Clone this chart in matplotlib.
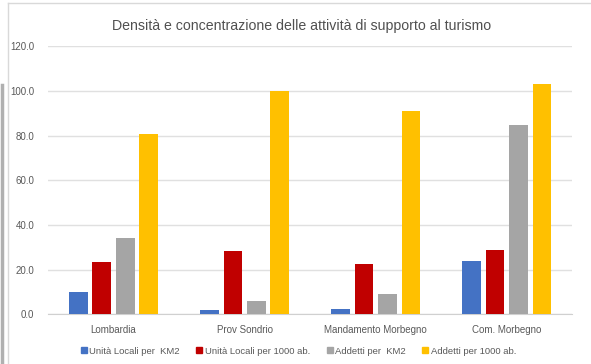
import numpy as np
import matplotlib.pyplot as plt
from matplotlib.lines import Line2D

# data
categories = ["Lombardia", "Prov Sondrio", "Mandamento Morbegno", "Com. Morbegno"]
series_names = ["Unità Locali per  KM2", "Unità Locali per 1000 ab.",
                "Addetti per  KM2", "Addetti per 1000 ab."]
ul_km2 = [9.8, 1.9, 2.4, 24.0]
ul_1000 = [23.3, 28.2, 22.5, 29.0]
add_km2 = [34.0, 6.0, 9.0, 84.8]
add_1000 = [80.7, 99.8, 90.8, 103.0]
colors = ["#4472C4", "#C00000", "#A5A5A5", "#FFC000"]

plt.rcParams['font.family'] = ['Liberation Sans', 'DejaVu Sans']
text_col = "#595959"

fig = plt.figure(figsize=(5.91, 3.64), dpi=100)
ax = fig.add_axes([0.0812, 0.1365, 0.887, 0.7365])

x = np.arange(len(categories))
width = 0.142
step = 0.179
all_series = [ul_km2, ul_1000, add_km2, add_1000]
for i, (vals, name, c) in enumerate(zip(all_series, series_names, colors)):
    ax.bar(x + (i - 1.5) * step, vals, width, color=c, label=name, zorder=3)

ax.set_xlim(-0.5, len(categories) - 0.5)
ax.set_ylim(0, 120)
ax.set_yticks(np.arange(0, 121, 20))
ax.set_yticklabels([f"{v:.1f}" for v in np.arange(0, 121, 20)])
ax.set_xticks(x)
ax.set_xticklabels(categories)
ax.tick_params(axis='both', length=0, labelsize=7, labelcolor=text_col)
ax.tick_params(axis='y', pad=10)
ax.tick_params(axis='x', pad=8)
ax.grid(axis='y', color="#E0E0E0", linewidth=1, zorder=0)
for s in ["top", "right", "left"]:
    ax.spines[s].set_visible(False)
ax.spines["bottom"].set_color("#D0D0D0")

fig.text(0.51, 0.928, "Densità e concentrazione delle attività di supporto al turismo",
         ha="center", va="center", fontsize=10.2, color="#505050")

handles = [Line2D([], [], marker="s", linestyle="", color=c, markersize=4.5) for c in colors]
fig.legend(handles, series_names, loc="center", bbox_to_anchor=(0.505, 0.035), ncol=4,
           frameon=False, fontsize=6.8, labelcolor=text_col, handletextpad=0.25,
           handlelength=0.7, columnspacing=1.7)

# outer frame of the screenshot
fig.add_artist(Line2D([8 / 591, 8 / 591], [0, 1 - 3 / 364], transform=fig.transFigure,
                      color="#D9D9D9", linewidth=1))
fig.add_artist(Line2D([8 / 591, 1], [1 - 3 / 364, 1 - 3 / 364], transform=fig.transFigure,
                      color="#D9D9D9", linewidth=1))
fig.add_artist(Line2D([2 / 591, 2 / 591], [0, 1 - 85 / 364], transform=fig.transFigure,
                      color="#B0B0B0", linewidth=2.5))

fig.savefig("out.png", dpi=100)
